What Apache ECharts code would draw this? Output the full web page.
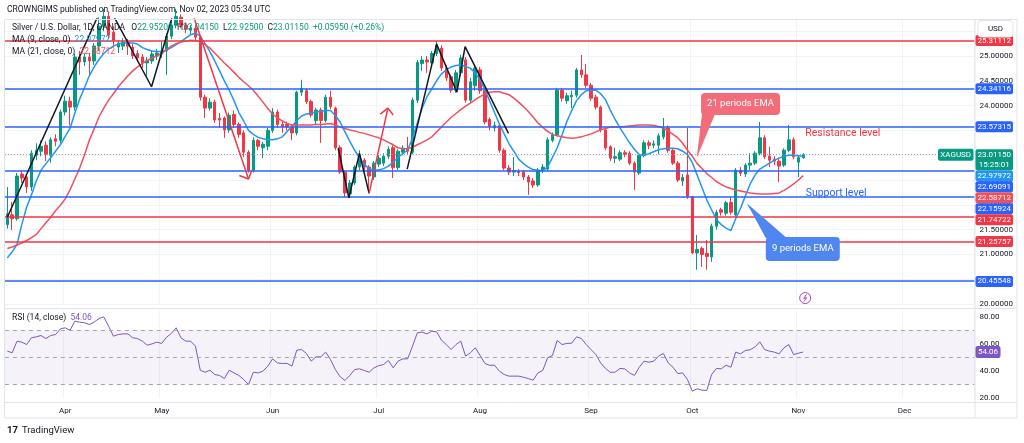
<!DOCTYPE html>
<html>
<head>
<meta charset="UTF-8">
<title>XAGUSD 1D</title>
<script src="https://cdn.jsdelivr.net/npm/echarts/dist/echarts.min.js"></script>
<style>
    html, body { margin: 0; padding: 0; background: #fff; }
    #container { width: 1024px; height: 443px; }
</style>
</head>
<body>
<div id="container"></div>
<script>
    // ---- data (daily bars, 16 Mar 2023 .. 2 Nov 2023) ----
    var firstDay = '2023-03-16';
    var slotCount = 201;   // bars + empty space to the right

    var openP = [21.60, 21.80, 21.72, 22.62, 22.56, 22.36, 23.00, 23.08, 23.20, 23.00,
        23.33, 23.30, 23.87, 24.09, 23.97, 24.98, 24.88, 24.98, 24.90, 25.20,
        25.60, 25.80, 25.48, 25.18, 25.20, 25.28, 25.18, 25.05, 24.98, 24.86,
        24.90, 25.00, 25.04, 25.10, 25.40, 25.62, 25.78, 25.62, 25.52, 25.56,
        25.38, 24.17, 23.95, 24.07, 23.74, 23.75, 23.51, 23.82, 23.62, 23.45,
        23.06, 22.70, 23.30, 23.15, 23.18, 23.50, 23.87, 23.62, 23.62, 23.57,
        23.45, 24.27, 24.30, 24.08, 23.70, 23.91, 23.70, 24.17, 23.95, 23.15,
        22.66, 22.22, 22.44, 22.76, 22.90, 22.76, 22.56, 22.82, 22.84, 22.98,
        23.15, 22.75, 23.06, 23.14, 23.06, 24.11, 24.85, 24.92, 24.86, 25.05,
        25.16, 24.76, 24.58, 24.31, 24.66, 24.92, 24.11, 24.40, 24.72, 24.31,
        23.72, 23.55, 23.60, 23.10, 22.74, 22.66, 22.68, 22.66, 22.56, 22.48,
        22.40, 22.70, 22.72, 23.30, 23.41, 24.31, 24.10, 24.18, 24.21, 24.72,
        24.62, 24.41, 24.17, 23.97, 23.51, 23.17, 22.94, 22.92, 23.05, 23.04,
        22.84, 22.64, 23.00, 23.25, 23.20, 23.20, 23.37, 23.55, 23.10, 22.84,
        22.48, 22.60, 22.16, 21.03, 21.12, 21.02, 20.95, 21.57, 21.90, 21.83,
        22.05, 21.80, 22.70, 22.62, 22.80, 22.84, 23.04, 23.35, 22.98, 22.92,
        22.88, 22.80, 23.10, 23.31, 22.86, 22.952];

    var closeP = [21.82, 21.72, 22.58, 22.54, 22.36, 23.04, 23.10, 23.18, 23.02, 23.31,
        23.28, 23.87, 24.09, 23.97, 24.98, 24.88, 24.98, 24.90, 25.20, 25.60,
        25.80, 25.42, 25.32, 25.26, 25.28, 25.20, 25.00, 24.96, 24.86, 24.90,
        25.04, 25.06, 25.10, 25.40, 25.62, 25.80, 25.62, 25.55, 25.56, 25.38,
        24.17, 23.95, 24.07, 23.71, 23.71, 23.51, 23.80, 23.62, 23.42, 23.06,
        22.70, 23.30, 23.18, 23.22, 23.50, 23.87, 23.62, 23.58, 23.57, 23.45,
        24.27, 24.35, 24.08, 23.81, 23.91, 23.70, 24.17, 23.98, 23.15, 22.66,
        22.24, 22.44, 22.76, 23.00, 22.76, 22.58, 22.84, 22.94, 22.98, 23.12,
        22.75, 23.08, 23.14, 23.08, 24.11, 24.87, 24.92, 24.88, 25.05, 25.22,
        24.76, 24.56, 24.31, 24.66, 24.96, 24.11, 24.48, 24.76, 24.30, 23.67,
        23.58, 23.60, 23.10, 22.74, 22.66, 22.69, 22.65, 22.56, 22.46, 22.40,
        22.70, 22.76, 23.31, 23.41, 24.31, 24.15, 24.20, 24.21, 24.72, 24.62,
        24.41, 24.15, 23.97, 23.51, 23.15, 22.94, 22.97, 23.05, 23.02, 22.84,
        22.66, 23.00, 23.25, 23.20, 23.23, 23.39, 23.55, 23.10, 22.84, 22.50,
        22.55, 22.16, 21.03, 21.10, 21.00, 20.96, 21.57, 21.85, 21.85, 22.04,
        21.85, 22.70, 22.64, 22.80, 22.84, 23.04, 23.35, 22.97, 22.90, 22.88,
        22.78, 23.10, 23.31, 22.97, 22.952, 23.0115];

    var lowP = [21.52, 21.49, 21.68, 22.44, 22.24, 22.28, 22.90, 22.98, 22.88, 22.85,
        23.18, 23.24, 23.80, 23.60, 23.90, 24.62, 24.80, 24.60, 24.82, 25.10,
        25.50, 25.36, 25.20, 25.06, 25.12, 25.02, 24.94, 24.88, 24.76, 24.60,
        24.84, 24.92, 24.96, 24.62, 25.34, 25.56, 25.56, 25.46, 25.44, 25.30,
        24.10, 23.75, 23.90, 23.65, 23.55, 23.35, 23.45, 23.55, 23.35, 22.96,
        22.65, 22.65, 23.10, 22.94, 23.10, 23.45, 23.55, 23.45, 23.50, 23.30,
        23.40, 24.20, 24.03, 23.76, 23.62, 23.25, 23.66, 23.93, 23.10, 22.62,
        22.15, 22.14, 22.40, 22.70, 22.66, 22.34, 22.50, 22.76, 22.78, 22.92,
        22.54, 22.70, 23.00, 23.02, 23.02, 24.05, 24.70, 24.66, 24.80, 25.00,
        24.70, 24.50, 24.26, 24.26, 24.60, 24.06, 24.06, 24.30, 24.24, 23.62,
        23.50, 23.48, 23.05, 22.70, 22.60, 22.58, 22.58, 22.50, 22.20, 22.34,
        22.36, 22.64, 22.68, 23.26, 23.38, 24.08, 24.04, 23.95, 24.16, 24.56,
        24.36, 24.10, 23.92, 23.46, 23.10, 22.88, 22.84, 22.88, 22.96, 22.80,
        22.30, 22.60, 22.96, 23.12, 23.14, 23.02, 23.32, 23.05, 22.80, 22.46,
        22.38, 22.12, 21.00, 20.69, 20.75, 20.69, 20.85, 21.50, 21.78, 21.78,
        21.80, 21.76, 22.58, 22.56, 22.70, 22.80, 23.00, 22.92, 22.76, 22.80,
        22.46, 22.76, 23.06, 22.92, 22.56, 22.925];

    var highP = [22.36, 22.06, 22.64, 22.70, 22.60, 23.10, 23.24, 23.30, 23.28, 23.36,
        23.42, 23.92, 24.20, 24.18, 25.05, 25.10, 25.05, 25.06, 25.26, 25.78,
        25.95, 25.90, 25.60, 25.32, 25.36, 25.34, 25.24, 25.12, 25.04, 24.98,
        25.10, 25.14, 25.30, 25.46, 25.70, 25.95, 25.84, 25.68, 25.62, 25.62,
        25.42, 24.22, 24.15, 24.12, 23.85, 23.78, 23.86, 23.90, 23.66, 23.50,
        23.10, 23.36, 23.33, 23.27, 23.55, 23.95, 23.92, 23.70, 23.68, 23.62,
        24.30, 24.52, 24.35, 24.12, 23.96, 23.96, 24.22, 24.30, 23.98, 23.20,
        22.70, 22.50, 22.80, 23.10, 22.94, 22.80, 22.88, 23.00, 23.04, 23.18,
        23.20, 23.12, 23.20, 23.37, 24.16, 24.92, 25.00, 25.00, 25.10, 25.30,
        25.22, 24.82, 24.62, 24.72, 25.02, 24.98, 24.56, 24.80, 24.78, 24.36,
        23.76, 23.68, 23.64, 23.14, 22.80, 22.96, 22.72, 22.70, 22.60, 22.54,
        22.74, 22.82, 23.36, 23.46, 24.36, 24.36, 24.26, 24.30, 24.76, 25.02,
        24.84, 24.46, 24.22, 24.00, 23.56, 23.20, 23.15, 23.10, 23.10, 23.08,
        22.88, 23.04, 23.30, 23.30, 23.30, 23.44, 23.75, 23.60, 23.14, 22.88,
        22.62, 23.55, 22.18, 21.39, 21.16, 21.29, 21.62, 21.90, 21.94, 22.08,
        22.16, 22.74, 22.76, 22.84, 23.04, 23.08, 23.67, 23.40, 23.17, 22.98,
        22.92, 23.14, 23.61, 23.36, 23.00, 23.0415];

    var ma9 = [20.93, 21.05, 21.2, 21.6, 21.95, 22.2, 22.48, 22.7, 22.83, 22.95,
        23.08, 23.21, 23.38, 23.54, 23.85, 24.13, 24.36, 24.6, 24.78, 24.93,
        25.05, 25.14, 25.2, 25.24, 25.26, 25.26, 25.26, 25.24, 25.17, 25.13,
        25.1, 25.09, 25.09, 25.12, 25.17, 25.23, 25.29, 25.36, 25.43, 25.46,
        25.4, 25.25, 25.09, 24.9, 24.7, 24.5, 24.31, 24.1, 23.86, 23.69,
        23.5, 23.42, 23.36, 23.33, 23.31, 23.31, 23.33, 23.37, 23.48, 23.58,
        23.7, 23.79, 23.83, 23.85, 23.87, 23.88, 23.9, 23.9, 23.8, 23.67,
        23.47, 23.28, 23.1, 22.95, 22.82, 22.72, 22.7, 22.7, 22.73, 22.78,
        22.86, 22.96, 23.03, 23.1, 23.35, 23.65, 23.95, 24.18, 24.34, 24.5,
        24.64, 24.72, 24.78, 24.81, 24.82, 24.79, 24.75, 24.66, 24.52, 24.32,
        24.09, 23.86, 23.63, 23.43, 23.23, 23.08, 22.92, 22.83, 22.76, 22.71,
        22.69, 22.69, 22.76, 22.95, 23.15, 23.41, 23.68, 23.9, 24.1, 24.22,
        24.3, 24.31, 24.31, 24.24, 24.12, 23.91, 23.72, 23.55, 23.4, 23.25,
        23.12, 23.01, 23.0, 23.03, 23.07, 23.11, 23.13, 23.14, 23.14, 23.13,
        23.08, 23.01, 22.85, 22.6, 22.35, 22.1, 21.9, 21.7, 21.6, 21.53,
        21.48, 21.72, 21.93, 22.18, 22.42, 22.6, 22.72, 22.78, 22.84, 22.9,
        22.94, 22.98, 23.0, 23.0, 22.99, 22.97972];

    var ma21 = [21.12, 21.15, 21.19, 21.23, 21.28, 21.34, 21.4, 21.52, 21.64, 21.75,
        21.88, 21.99, 22.12, 22.3, 22.52, 22.74, 23.0, 23.3, 23.53, 23.77,
        23.95, 24.11, 24.24, 24.38, 24.49, 24.6, 24.7, 24.78, 24.85, 24.91,
        24.96, 25.0, 25.05, 25.13, 25.2, 25.25, 25.28, 25.3, 25.32, 25.31,
        25.29, 25.23, 25.16, 25.06, 24.96, 24.86, 24.77, 24.67, 24.57, 24.48,
        24.4, 24.31, 24.19, 24.07, 23.94, 23.83, 23.75, 23.69, 23.64, 23.61,
        23.61, 23.61, 23.61, 23.61, 23.62, 23.62, 23.63, 23.64, 23.61, 23.57,
        23.54, 23.51, 23.49, 23.46, 23.44, 23.41, 23.38, 23.35, 23.31, 23.26,
        23.21, 23.15, 23.13, 23.13, 23.16, 23.21, 23.26, 23.31, 23.37, 23.47,
        23.57, 23.67, 23.76, 23.84, 23.92, 23.99, 24.05, 24.12, 24.18, 24.23,
        24.27, 24.28, 24.28, 24.25, 24.22, 24.15, 24.07, 23.98, 23.88, 23.77,
        23.65, 23.56, 23.48, 23.42, 23.39, 23.37, 23.35, 23.34, 23.35, 23.37,
        23.4, 23.43, 23.47, 23.51, 23.54, 23.57, 23.57, 23.57, 23.58, 23.59,
        23.6, 23.61, 23.61, 23.61, 23.6, 23.58, 23.55, 23.49, 23.42, 23.35,
        23.24, 23.1, 22.98, 22.83, 22.73, 22.63, 22.55, 22.47, 22.41, 22.36,
        22.33, 22.3, 22.28, 22.26, 22.24, 22.23, 22.22, 22.22, 22.22, 22.23,
        22.24, 22.29, 22.35, 22.42, 22.5, 22.58712];

    var rsi = [54.7, 53.5, 62, 61.4, 59.6, 64.6, 65.3, 66.3, 64, 66.3,
        67, 71.2, 72, 70.2, 76.9, 76.2, 75.7, 74.4, 76.2, 78.9,
        80.1, 73.2, 65.8, 67, 67.5, 67.5, 64.6, 64, 62.1, 59.1,
        60.1, 61.4, 60.4, 65, 67.8, 72, 64.6, 62.1, 62.1, 58.4,
        40.6, 39.1, 40.6, 37.4, 36.7, 34.4, 40.6, 38.6, 36.7, 33.7,
        30, 39.1, 38.6, 39.9, 43.6, 49, 46, 45.6, 45.6, 43.6,
        55.4, 55.9, 53, 47.3, 50.5, 50.5, 54, 48.5, 41.1, 35.7,
        33, 36.7, 41.1, 41.6, 40.4, 39.1, 42.3, 44, 44.8, 47.8,
        42.3, 47.3, 49, 49, 58.4, 68.3, 68.8, 67.5, 69.5, 69,
        62.8, 59.6, 55.9, 59.6, 62.1, 51, 53.5, 57.2, 51.6, 45.6,
        44.2, 44.3, 39.9, 37.4, 36.2, 36.2, 36.2, 35.4, 34.4, 33.2,
        38.6, 40.4, 49.8, 51.5, 62.6, 59.6, 60.4, 60.6, 65.3, 64.1,
        59.6, 55.9, 52.2, 46, 41.9, 39.1, 39.1, 41.9, 41.6, 38.6,
        36.7, 42.8, 47.3, 46.5, 47.3, 51, 53, 46, 42.8, 38.1,
        38.6, 33.7, 25.1, 26.8, 25.8, 25.6, 37.4, 41.9, 41.6, 44.3,
        42.8, 54, 52.7, 55.2, 55.7, 57.9, 61.6, 55.9, 54.7, 54,
        52.7, 57.2, 59.6, 52.2, 53.2, 54.06];

    // horizontal levels drawn by the author
    var redLevels = [25.31112, 21.74722, 21.25757];
    var blueLevels = [24.34116, 23.57315, 22.69091, 22.15924, 20.45548];

    // hand drawn trend lines, as [bar index, price]
    var blackPaths = [
        [[0, 21.75], [19.5, 25.96]],
        [[21.9, 25.83], [29.9, 24.38], [34.1, 25.76]],
        [[68.6, 23.14], [70.8, 22.14], [73.0, 23.04], [75.0, 22.23]],
        [[82.9, 22.72], [89.0, 25.24], [93.2, 24.27], [94.9, 25.19], [103.9, 23.44]]
    ];
    var redPaths = [
        [[38.5, 25.83], [50.0, 22.52]],
        [[48.1, 22.59], [50.0, 22.52], [50.7, 22.70]],
        [[75.0, 22.23], [78.9, 23.95]],
        [[77.3, 23.83], [78.9, 23.95], [80.0, 23.81]]
    ];
    var rsiBands = [70, 50, 30];
    var monthNames = ['Jan', 'Feb', 'Mar', 'Apr', 'May', 'Jun', 'Jul', 'Aug', 'Sep', 'Oct', 'Nov', 'Dec'];

    // ---- build the calendar of trading days ----
    var dates = [];
    var d = new Date(firstDay + 'T00:00:00Z');
    while (dates.length < slotCount) {
        var wd = d.getUTCDay();
        if (wd !== 0 && wd !== 6) dates.push(d.toISOString().slice(0, 10));
        d.setUTCDate(d.getUTCDate() + 1);
    }
    function monthStart(i) {
        return i > 0 && dates[i].slice(5, 7) !== dates[i - 1].slice(5, 7);
    }

    var FONT = 'Roboto, "Noto Sans", sans-serif';
    var UP = '#089981', DOWN = '#f23645', BLUE = '#2962ff', RED = '#f23645';
    var MA9C = '#2196f3', MA21C = '#f0505c', RSIC = '#7e57c2', INK = '#131722';

    var candles = openP.map(function (o, i) { return [o, closeP[i], lowP[i], highP[i]]; });
    var last = closeP.length - 1;

    var levelLines = redLevels.map(function (v) {
        return { yAxis: v, lineStyle: { color: RED, width: 1.5, type: 'solid' } };
    }).concat(blueLevels.map(function (v) {
        return { yAxis: v, lineStyle: { color: BLUE, width: 1.5, type: 'solid' } };
    }));
    levelLines.push({ yAxis: closeP[last], lineStyle: { color: '#9598a1', width: 1, type: [1, 2] } });

    function pathSeries(pts, color) {
        return {
            type: 'line', xAxisIndex: 2, yAxisIndex: 0, data: pts, symbol: 'none',
            silent: true, z: 5, clip: true, lineStyle: { color: color, width: 1.5 }
        };
    }

    var mychart = echarts.init(document.getElementById('container'));

    var option = {
        animation: false,
        backgroundColor: '#ffffff',
        textStyle: { fontFamily: FONT },
        grid: [
            { left: 4.9, top: 19, width: 969.6, height: 285, outerBoundsMode: 'none' },
            { left: 4.9, top: 310, width: 969.6, height: 88, outerBoundsMode: 'none' }
        ],
        xAxis: [
            {
                type: 'category', gridIndex: 0, data: dates, boundaryGap: true,
                axisLine: { show: false }, axisTick: { show: false }, axisLabel: { show: false },
                splitLine: { show: true, interval: monthStart, lineStyle: { color: '#f0f3fa' } }
            },
            {
                type: 'category', gridIndex: 1, data: dates, boundaryGap: true,
                axisLine: { show: false }, axisTick: { show: false },
                axisLabel: {
                    interval: monthStart, color: INK, fontSize: 8, margin: 9,
                    formatter: function (v) { return monthNames[parseInt(v.slice(5, 7), 10) - 1]; }
                },
                splitLine: { show: true, interval: monthStart, lineStyle: { color: '#f0f3fa' } }
            },
            { type: 'value', gridIndex: 0, min: -0.5, max: slotCount - 0.5, show: false }
        ],
        yAxis: [
            {
                type: 'value', gridIndex: 0, position: 'right', min: 20, max: 25.746, interval: 0.5,
                axisLine: { show: false }, axisTick: { show: false },
                splitLine: { lineStyle: { color: '#f2f3f6' } },
                axisLabel: {
                    color: INK, fontSize: 8, margin: 5,
                    formatter: function (v) {
                        return Math.abs(v * 2 - Math.round(v * 2)) > 1e-6 || v > 25.2 ? '' : v.toFixed(5);
                    }
                }
            },
            {
                type: 'value', gridIndex: 1, position: 'right', min: 20, max: 85.19, interval: 20,
                axisLine: { show: false }, axisTick: { show: false }, splitLine: { show: false },
                axisLabel: {
                    color: INK, fontSize: 8, margin: 5,
                    formatter: function (v) {
                        return Math.abs(v / 20 - Math.round(v / 20)) > 1e-6 ? '' : v.toFixed(2);
                    }
                }
            }
        ],
        series: [
            {
                type: 'candlestick', name: 'XAGUSD', xAxisIndex: 0, yAxisIndex: 0, data: candles,
                barWidth: 3, z: 2,
                itemStyle: { color: UP, color0: DOWN, borderColor: UP, borderColor0: DOWN, borderWidth: 1 },
                markLine: { silent: true, symbol: ['none', 'none'], label: { show: false }, animation: false, data: levelLines }
            },
            {
                type: 'line', name: 'MA9', xAxisIndex: 0, yAxisIndex: 0, data: ma9, symbol: 'none',
                silent: true, z: 3, lineStyle: { color: MA9C, width: 1.5 }
            },
            {
                type: 'line', name: 'MA21', xAxisIndex: 0, yAxisIndex: 0, data: ma21, symbol: 'none',
                silent: true, z: 3, lineStyle: { color: MA21C, width: 1.5 }
            },
            {
                type: 'line', name: 'RSI', xAxisIndex: 1, yAxisIndex: 1, data: rsi, symbol: 'none',
                silent: true, lineStyle: { color: RSIC, width: 1 },
                markArea: { silent: true, itemStyle: { color: 'rgba(126,87,194,0.08)' }, data: [[{ yAxis: 30 }, { yAxis: 70 }]] },
                markLine: {
                    silent: true, symbol: ['none', 'none'], label: { show: false },
                    lineStyle: { color: '#a3a6af', type: [4, 4], width: 1 },
                    data: rsiBands.map(function (v) { return { yAxis: v }; })
                }
            }
        ].concat(blackPaths.map(function (p) { return pathSeries(p, INK); }))
         .concat(redPaths.map(function (p) { return pathSeries(p, RED); }))
    };

    mychart.setOption(option);

    // ---- overlays: legend, price tags, callouts, frame ----
    function px(i, p) { return mychart.convertToPixel({ xAxisIndex: 2, yAxisIndex: 0 }, [i, p]); }
    function py(v) { return mychart.convertToPixel({ yAxisIndex: 0 }, v); }
    function pyRsi(v) { return mychart.convertToPixel({ yAxisIndex: 1 }, v); }

    var g = [];
    function text(x, y, s, size, color, more) {
        var st = { text: s, fill: color, fontSize: size, fontFamily: FONT, align: 'left', verticalAlign: 'middle',
            textAlign: 'left', textVerticalAlign: 'middle' };
        for (var k in more) st[k] = more[k];
        g.push({ type: 'text', x: x, y: y, style: st, z: 120, silent: true });
    }
    function line(x1, y1, x2, y2, color) {
        g.push({ type: 'line', shape: { x1: x1, y1: y1, x2: x2, y2: y2 }, style: { stroke: color || '#e0e3eb', lineWidth: 1 }, z: 90, silent: true });
    }
    function rich(extra) {
        var r = {};
        for (var k in extra) r[k] = { fill: extra[k], fontSize: 8.5, fontFamily: FONT };
        return r;
    }

    // header
    text(7, 10, 'CROWNGIMS published on TradingView.com, Nov 02, 2023 05:34 UTC', 8.5, INK);

    // frame
    g.push({ type: 'rect', shape: { x: 4.5, y: 19.5, width: 1012.5, height: 398.5 }, style: { fill: 'none', stroke: '#e0e3eb', lineWidth: 1 }, z: 90, silent: true });
    line(975, 19.5, 975, 418);
    line(4.5, 308.5, 1017, 308.5);
    line(4.5, 402.5, 1017, 402.5);

    // legend
    var chg = closeP[last] - closeP[last - 1];
    var f5 = function (v) { return v.toFixed(5); };
    text(12, 28, '{g|Silver / U.S. Dollar, 1D, OANDA}   {g|O}{v|' + f5(openP[last]) + '}  {g|H}{v|' + f5(highP[last]) +
        '}  {g|L}{v|' + f5(lowP[last]) + '}  {g|C}{v|' + f5(closeP[last]) + '}  {v|+' + f5(chg) +
        ' (+' + (chg / closeP[last - 1] * 100).toFixed(2) + '%)}', 8.5, INK, { rich: rich({ g: INK, v: UP }) });
    text(12, 40, '{g|MA (9, close, 0)}  {b|' + f5(ma9[last]) + '}', 8.5, INK, { rich: rich({ g: INK, b: MA9C }) });
    text(12, 51.5, '{g|MA (21, close, 0)}  {r|' + f5(ma21[last]) + '}', 8.5, INK, { rich: rich({ g: INK, r: MA21C }) });
    text(12, 318, '{g|RSI (14, close)}  {p|' + rsi[last].toFixed(2) + '}', 8.5, INK, { rich: rich({ g: INK, p: RSIC }) });

    // price axis tags (stacked like the platform does)
    var tags = redLevels.map(function (v) { return { v: v, c: RED, t: [f5(v)] }; })
        .concat(blueLevels.map(function (v) { return { v: v, c: BLUE, t: [f5(v)] }; }))
        .concat([
            { v: closeP[last], c: UP, t: [f5(closeP[last]), '15:25:01'] },
            { v: ma9[last], c: MA9C, t: [f5(ma9[last])] },
            { v: ma21[last], c: MA21C, t: [f5(ma21[last])] }
        ]).sort(function (a, b) { return b.v - a.v; });
    var prevBottom = -1e9;
    tags.forEach(function (t) {
        var h = t.t.length > 1 ? 21 : 11;
        var top = Math.max(py(t.v) - 5.5, prevBottom);
        prevBottom = top + h;
        g.push({ type: 'rect', shape: { x: 975.5, y: top, width: 37.5, height: h, r: 2 }, style: { fill: t.c }, z: 110, silent: true });
        t.t.forEach(function (s, k) {
            text(994.2, top + 5.5 + k * 10, s, 8, '#ffffff', { align: 'center', textAlign: 'center' });
        });
    });
    // symbol tag at the end of the price line
    var yc = py(closeP[last]);
    g.push({ type: 'rect', shape: { x: 938, y: yc - 6, width: 35.5, height: 12, r: 2 }, style: { fill: UP }, z: 110, silent: true });
    text(955.7, yc, 'XAGUSD', 8, '#ffffff', { align: 'center', textAlign: 'center' });

    // RSI tag
    var yr = pyRsi(rsi[last]);
    g.push({ type: 'rect', shape: { x: 975.5, y: yr - 6, width: 25, height: 12, r: 2 }, style: { fill: RSIC }, z: 110, silent: true });
    text(988, yr, rsi[last].toFixed(2), 8, '#ffffff', { align: 'center', textAlign: 'center' });

    // currency box
    g.push({ type: 'rect', shape: { x: 978, y: 20.5, width: 35, height: 16.5, r: 3 }, style: { fill: '#ffffff', stroke: '#e0e3eb', lineWidth: 1 }, z: 115, silent: true });
    text(995.5, 29, 'USD', 8, INK, { align: 'center', textAlign: 'center' });

    // level captions
    var pr = px(165.4, 23.45), ps = px(165.5, 22.24);
    text(pr[0], pr[1], 'Resistance level', 10.5, RED);
    text(ps[0], ps[1], 'Support level', 10.5, BLUE);

    // callouts
    function callout(center, w, h, color, label, tip, baseFrom, baseTo, fromTop) {
        var c = px(center[0], center[1]), tp = px(tip[0], tip[1]);
        var x0 = c[0] - w / 2, y0 = c[1] - h / 2;
        var by = fromTop ? y0 + 1 : y0 + h - 1;
        g.push({ type: 'polygon', shape: { points: [[x0 + baseFrom, by], [x0 + baseTo, by], tp] }, style: { fill: color }, z: 108, silent: true });
        g.push({ type: 'rect', shape: { x: x0, y: y0, width: w, height: h, r: 4 }, style: { fill: color }, z: 109, silent: true });
        text(c[0], c[1], label, 9.5, '#ffffff', { align: 'center', textAlign: 'center' });
    }
    callout([152.0, 24.03], 79, 22, '#f26d79', '21 periods EMA', [142.9, 22.94], 1, 14, false);
    callout([164.9, 21.11], 74, 24, '#4f86f0', '9 periods EMA', [153.3, 22.03], 0, 21, true);

    // event icon
    var ic = px(165.4, 20.12);
    g.push({ type: 'circle', shape: { cx: ic[0], cy: ic[1], r: 5.5 }, style: { fill: '#ffffff', stroke: '#ab47bc', lineWidth: 1 }, z: 110, silent: true });
    g.push({ type: 'polyline', shape: { points: [[ic[0] + 1.2, ic[1] - 3.5], [ic[0] - 1.5, ic[1] + 0.5], [ic[0] + 1.5, ic[1] - 0.5], [ic[0] - 1.2, ic[1] + 3.5]] },
        style: { stroke: '#ab47bc', lineWidth: 1, fill: 'none' }, z: 111, silent: true });

    // footer logo
    text(7, 430.5, '17', 9.5, INK, { fontWeight: 'bold' });
    text(22, 430.5, 'TradingView', 9.5, INK);

    mychart.setOption({ graphic: { elements: g } });
</script>
</body>
</html>
